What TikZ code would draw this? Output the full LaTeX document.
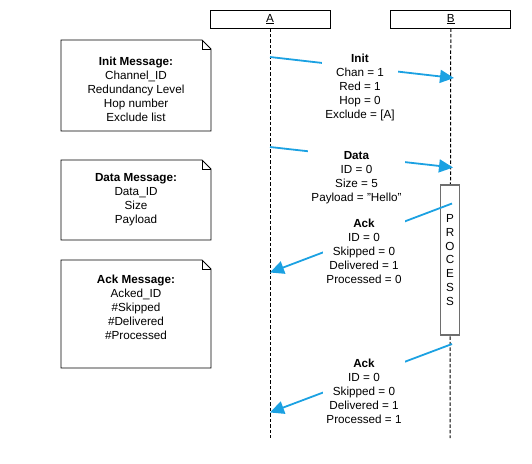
\documentclass[tikz,border=0pt]{standalone}
\usepackage{fontspec}
\setmainfont{Liberation Sans}
\usetikzlibrary{arrows.meta,positioning}
\definecolor{msgblue}{RGB}{27,161,226}
\definecolor{procgray}{RGB}{110,110,110}
\newcommand{\notebox}[4]{%
  \draw[notefold] (#1,#2) -- (#3-9,#2) -- (#3,#2+9) -- (#3,#4) -- (#1,#4) -- cycle;
  \draw[notefold] (#3-9,#2) -- (#3-9,#2+9) -- (#3,#2+9);}

\begin{document}
\begin{tikzpicture}[x=1pt, y=-1pt, font=\fontsize{11.7}{14}\selectfont,
    head/.style={draw, line width=0.8pt, minimum width=120pt, minimum height=18pt, inner sep=0pt},
    life/.style={line width=1pt, dash pattern=on 3.5pt off 2pt},
    notefold/.style={line width=0.9pt, line join=miter},
    notetext/.style={align=center, inner sep=0pt},
    msg/.style={draw=msgblue, line width=1.8pt, -{Triangle[length=14pt,width=13pt]}},
    msglabel/.style={fill=white, align=center, inner sep=3pt},
    procbox/.style={draw=procgray, fill=white, line width=1.2pt, minimum width=19pt, minimum height=150pt,
        inner sep=0pt, align=center, font=\fontsize{11.7}{13.7}\selectfont}]
    \useasboundingbox (0,0) rectangle (532,463);

    \node[head] (A) at (270,19) {\underline{A}};
    \node[head] (B) [right=60pt of A] {\underline{B}};
    \coordinate (Aend) at (270,438);
    \coordinate (Bend) at (450,438);
    \draw[life] (A) -- (Aend);
    \draw[life] (B) -- (Bend);

    \node[procbox] (proc) at (450,260) {P\\R\\O\\C\\E\\S\\S};

    \notebox{61}{40}{211}{131}
    \node[notetext] (initmsg) at (136,89) {\textbf{Init Message:}\\Channel\_ID\\Redundancy Level\\Hop number\\Exclude list};
    \notebox{61}{160}{211}{240}
    \node[notetext] (datamsg) at (136,199.5) {\textbf{Data Message:}\\Data\_ID\\Size\\Payload};
    \notebox{61}{260}{211}{368}
    \node[notetext] (ackmsg) at (136,307.5) {\textbf{Ack Message:}\\Acked\_ID\\\#Skipped\\\#Delivered\\\#Processed};

    \coordinate (init1) at (270,57);
    \coordinate (init2) at (454,78);
    \draw[msg] (init1) -- (init2);
    \node[msglabel] (initlbl) at (360,87) {\textbf{Init}\\Chan = 1\\Red = 1\\Hop = 0\\Exclude = [A]};

    \coordinate (data1) at (270,147);
    \coordinate (data2) at (453,167.5);
    \draw[msg] (data1) -- (data2);
    \node[msglabel] (datalbl) at (356.5,177.5) {\textbf{Data}\\ID = 0\\Size = 5\\Payload = "Hello"};

    \coordinate (acka1) at (452,203.5);
    \coordinate (acka2) at (270,272.5);
    \draw[msg] (acka1) -- (acka2);
    \node[msglabel] (ackalbl) at (364,251.7) {\textbf{Ack}\\ID = 0\\Skipped = 0\\Delivered = 1\\Processed = 0};

    \coordinate (ackb1) at (452,344);
    \coordinate (ackb2) at (270,412.5);
    \draw[msg] (ackb1) -- (ackb2);
    \node[msglabel] (ackblbl) at (364,391.5) {\textbf{Ack}\\ID = 0\\Skipped = 0\\Delivered = 1\\Processed = 1};
\end{tikzpicture}
\end{document}
